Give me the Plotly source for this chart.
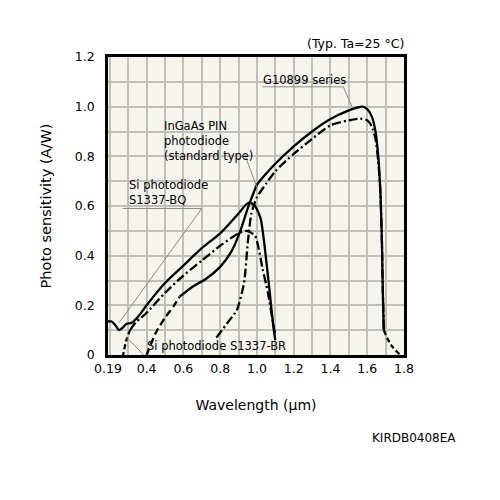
import plotly.graph_objects as go

# ---- data ----
bq_wl = [0.19, 0.21, 0.23, 0.25, 0.27, 0.29, 0.32, 0.36, 0.40, 0.50, 0.60, 0.70, 0.80, 0.90, 0.94, 0.96, 0.99, 1.02, 1.04, 1.07, 1.09, 1.10]
bq_r  = [0.135, 0.135, 0.12, 0.10, 0.11, 0.125, 0.13, 0.16, 0.20, 0.29, 0.36, 0.43, 0.49, 0.57, 0.605, 0.615, 0.60, 0.55, 0.45, 0.25, 0.11, 0.06]

br_tail_wl = [0.27, 0.29, 0.31]
br_tail_r  = [-0.01, 0.06, 0.10]
br_wl = [0.31, 0.34, 0.37, 0.40, 0.50, 0.60, 0.70, 0.80, 0.90, 0.945, 0.99, 1.03, 1.06, 1.09, 1.10]
br_r  = [0.10, 0.13, 0.15, 0.17, 0.25, 0.32, 0.38, 0.44, 0.49, 0.50, 0.48, 0.35, 0.25, 0.12, 0.08]

g_head_wl = [0.40, 0.45, 0.50, 0.55, 0.58]
g_head_r  = [0.0, 0.09, 0.15, 0.20, 0.235]
g_wl = [0.58, 0.65, 0.72, 0.80, 0.86, 0.91, 0.95, 0.98, 1.00, 1.05, 1.10, 1.20, 1.30, 1.40, 1.50, 1.55, 1.575, 1.60, 1.625, 1.645, 1.66, 1.672, 1.68, 1.685, 1.69]
g_r  = [0.235, 0.275, 0.305, 0.355, 0.415, 0.50, 0.59, 0.65, 0.685, 0.73, 0.77, 0.84, 0.90, 0.95, 0.985, 0.997, 1.0, 0.99, 0.96, 0.90, 0.80, 0.65, 0.45, 0.25, 0.10]

std_wl = [0.78, 0.84, 0.89, 0.93, 0.95, 0.97, 1.00, 1.05, 1.10, 1.20, 1.30, 1.40, 1.50, 1.56, 1.60, 1.625, 1.645, 1.66, 1.672, 1.68, 1.685, 1.69]
std_r  = [0.07, 0.13, 0.18, 0.29, 0.45, 0.57, 0.635, 0.69, 0.74, 0.81, 0.87, 0.925, 0.945, 0.952, 0.945, 0.92, 0.87, 0.78, 0.65, 0.45, 0.25, 0.10]

tail_wl = [1.69, 1.73, 1.78]
tail_r  = [0.10, 0.04, 0.0]

x_ticks = [0.19, 0.4, 0.6, 0.8, 1.0, 1.2, 1.4, 1.6, 1.8]
x_tick_text = ["0.19", "0.4", "0.6", "0.8", "1.0", "1.2", "1.4", "1.6", "1.8"]
y_ticks = [0, 0.2, 0.4, 0.6, 0.8, 1.0, 1.2]
y_tick_text = ["0", "0.2", "0.4", "0.6", "0.8", "1.0", "1.2"]
x_grid = [round(0.2 + 0.1 * i, 2) for i in range(16)]
y_grid = [round(0.1 * i, 2) for i in range(1, 12)]

FONT = "DejaVu Sans"
DASHDOT = "9px,3px,2px,3px"
line = dict(color="black", width=2.3)

fig = go.Figure()
fig.add_trace(go.Scatter(x=bq_wl, y=bq_r, mode="lines", line=dict(line, shape="spline", smoothing=0.6)))
fig.add_trace(go.Scatter(x=br_tail_wl, y=br_tail_r, mode="lines", line=dict(line, dash="5px,3px", shape="spline")))
fig.add_trace(go.Scatter(x=br_wl, y=br_r, mode="lines", line=dict(line, dash=DASHDOT, shape="spline", smoothing=0.6)))
fig.add_trace(go.Scatter(x=g_head_wl, y=g_head_r, mode="lines", line=dict(line, dash="7px,4px", shape="spline", smoothing=0.6)))
fig.add_trace(go.Scatter(x=g_wl, y=g_r, mode="lines", line=dict(line, shape="spline", smoothing=0.6)))
fig.add_trace(go.Scatter(x=std_wl, y=std_r, mode="lines", line=dict(line, dash=DASHDOT, shape="spline", smoothing=0.6)))
fig.add_trace(go.Scatter(x=tail_wl, y=tail_r, mode="lines", line=dict(line, dash="5px,3px", shape="spline")))

gridc = "#c0c0b8"
fig.update_layout(
    width=500, height=500,
    margin=dict(l=108, r=96, t=57, b=145),
    paper_bgcolor="white", plot_bgcolor="#f5f5ee",
    showlegend=False,
    font=dict(family=FONT, size=12, color="black"),
    xaxis=dict(range=[0.19, 1.8], tickvals=x_ticks, ticktext=x_tick_text,
               showgrid=False, zeroline=False,
               showline=True, linecolor="black", linewidth=2.5, mirror=True,
               ticks="",
               tickfont=dict(size=12.5),
               minor=dict(tickvals=x_grid, showgrid=True, gridcolor=gridc, gridwidth=2.2, ticks=""),
               title=dict(text="Wavelength (µm)", font=dict(size=14), standoff=26)),
    yaxis=dict(range=[0, 1.2], tickvals=y_ticks, ticktext=y_tick_text,
               showgrid=False, zeroline=False,
               showline=True, linecolor="black", linewidth=2.5, mirror=True,
               ticks="outside", ticklen=8, tickcolor="rgba(0,0,0,0)",
               tickfont=dict(size=12.5),
               minor=dict(tickvals=y_grid, showgrid=True, gridcolor=gridc, gridwidth=2.2, ticks=""),
               title=dict(text="Photo sensitivity (A/W)", font=dict(size=14.5), standoff=20)),
)

lab = dict(font=dict(family=FONT, size=11.5, color="black"), showarrow=False, bgcolor="rgba(0,0,0,0)")
fig.add_annotation(x=1.26, y=1.109, text="G10899 series", xanchor="center", yanchor="middle", **lab)
fig.add_annotation(x=0.485, y=0.863, text="InGaAs PIN<br>photodiode<br>(standard type)", xanchor="left", yanchor="middle", align="left", **lab)
fig.add_annotation(x=0.293, y=0.653, text="Si photodiode<br>S1337-BQ", xanchor="left", yanchor="middle", align="left", **lab)
fig.add_annotation(x=0.392, y=0.036, text="Si photodiode S1337-BR", xanchor="left", yanchor="middle", **lab)
fig.add_annotation(x=1.8, y=1.2, text="(Typ. Ta=25 °C)", xanchor="right", yanchor="bottom", yshift=4, xshift=2,
                   font=dict(family=FONT, size=12.5, color="black"), showarrow=False)
fig.add_annotation(xref="paper", yref="paper", x=1.035, y=-0.28, text="KIRDB0408EA",
                   xanchor="center", yanchor="middle", showarrow=False, font=dict(family=FONT, size=12))

leader = dict(color="#8a8a8a", width=1)
def seg(x0, y0, x1, y1):
    fig.add_shape(type="line", x0=x0, y0=y0, x1=x1, y1=y1, xref="x", yref="y", line=leader)

seg(1.03, 1.08, 1.47, 1.08)
seg(1.47, 1.08, 1.52, 0.995)
seg(0.935, 0.805, 1.0, 0.675)
seg(0.27, 0.59, 0.7, 0.59)
seg(0.7, 0.59, 0.25, 0.13)
seg(0.29, 0.072, 0.385, 0.0)

fig.write_html("out.html")
